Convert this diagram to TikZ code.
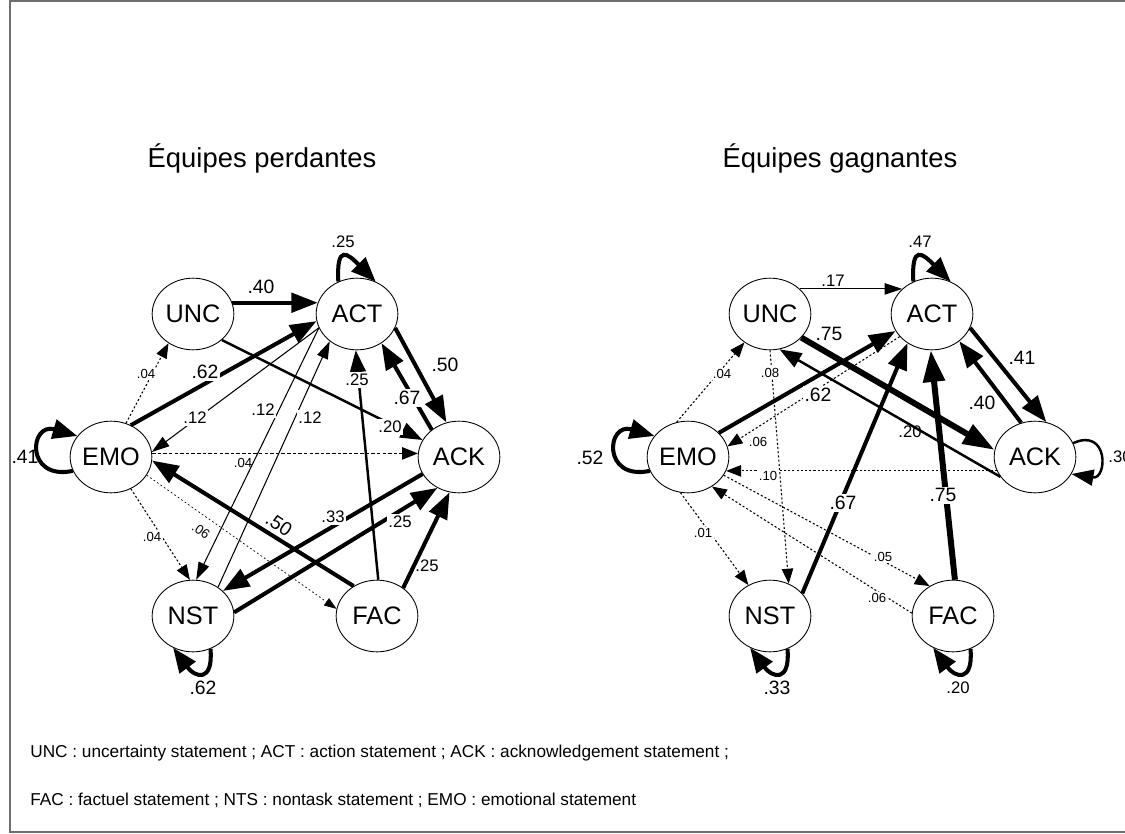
\documentclass[tikz,border=0pt]{standalone}
\usepackage{fontspec}
\setmainfont{Liberation Sans}
\usepackage{tikz}
\usetikzlibrary{arrows.meta,shapes.geometric}
\usepackage{xcolor}
\definecolor{framegray}{RGB}{110,110,110}
\tikzstyle{state} = [ellipse, draw, line width=0.5pt, minimum width=46.5pt, minimum height=40.8pt, inner sep=0pt, font=\fontsize{14.4}{16}\selectfont]
\tikzstyle{thinarrow} = [line width=0.6pt, -{Triangle[length=10pt,width=6.5pt]}]
\tikzstyle{medarrow} = [line width=1.4pt, -{Triangle[length=12.5pt,width=9pt]}]
\tikzstyle{thickarrow} = [line width=2.3pt, -{Triangle[length=15pt,width=11pt]}]
\tikzstyle{heavyarrow} = [line width=3.4pt, -{Triangle[length=18pt,width=12pt]}]
\tikzstyle{dotarrow} = [line width=0.6pt, dash pattern=on 1.2pt off 1.2pt, -{Triangle[length=8.5pt,width=6.5pt]}]
\tikzstyle{finedot} = [line width=0.4pt, dash pattern=on 1pt off 1.4pt, -{Triangle[length=7pt,width=5pt]}]
\tikzstyle{dasharrow} = [line width=0.8pt, dash pattern=on 2pt off 1.2pt, -{Triangle[length=9pt,width=7pt]}]
\tikzstyle{loopline} = [line width=2.3pt, -{Triangle[length=14pt,width=11pt]}]
\tikzstyle{wbig} = [font=\fontsize{11}{13}\selectfont, inner sep=1pt]
\tikzstyle{wmid} = [font=\fontsize{9.5}{11}\selectfont, inner sep=1pt]
\tikzstyle{wsmall} = [font=\fontsize{7.5}{9}\selectfont, inner sep=1pt]
\tikzstyle{gap} = [fill=white]
\tikzstyle{title} = [font=\fontsize{15.6}{18}\selectfont]
\tikzstyle{legend} = [font=\fontsize{9.8}{12}\selectfont, anchor=west, inner sep=0pt]

\begin{document}
\begin{tikzpicture}[x=0.02cm, y=-0.02cm]
\useasboundingbox (0,0) rectangle (1125,834);
\draw[framegray, line width=0.6pt] (10,1) rectangle (1200,832);

% Titles
\node[title] (ltitle) at (262,158) {Équipes perdantes};
\node[title] (rtitle) at (840,158) {Équipes gagnantes};

% Losing teams
\node[state] (lUNC) at (193,314) {UNC};
\node[state] (lACT) at (357,314) {ACT};
\node[state] (lEMO) at (111,457) {EMO};
\node[state] (lACK) at (459,457) {ACK};
\node[state] (lNST) at (193,616) {NST};
\node[state] (lFAC) at (377,616) {FAC};

\draw[thickarrow] (lUNC.16) -- (lACT.164);
\draw[thickarrow] (lEMO.58) -- (lACT.190);
\draw[thinarrow] (lACT.200) -- (lEMO.7);
\draw[thinarrow] (lACT.200) -- (lNST.85);
\draw[thinarrow] (lNST.49) -- (lACT.225);
\draw[dotarrow] (lEMO.66) -- (lUNC.230);
\draw[dasharrow] (lEMO.5) -- (lACK.175);
\draw[medarrow] (lUNC.-42) -- (lACK.155);
\draw[thickarrow] (lACT.-20) -- (lACK.110);
\draw[thickarrow] (lACK.135) -- (lACT.-50);
\draw[medarrow] (lFAC.88) -- (lACT.268);
\draw[thickarrow] (lFAC.128) -- (lEMO.-5);
\draw[thickarrow] (lACK.205) -- (lNST.40);
\draw[thickarrow] (lNST.5) -- (lACK.235);
\draw[thickarrow] (lFAC.47) -- (lACK.255);
\draw[dotarrow] (lEMO.-58) -- (lNST.95);
\draw[finedot] (lEMO.-27) -- (lFAC.170);
\draw[loopline] (lEMO.200) .. controls +(-48,10) and +(-48,-14) .. (lEMO.148);
\draw[loopline] (lACT.120) .. controls +(-2,-38) and +(-28,-28) .. (lACT.60);
\draw[loopline] (lNST.-62) .. controls +(3,34) and +(22,30) .. (lNST.238);

\node[wbig] (l40) at (261,287) {.40};
\node[wbig, gap] (l62) at (205,372) {.62};
\node[wmid, gap] (l12a) at (195,418) {.12};
\node[wmid, gap] (l12b) at (263,410) {.12};
\node[wmid, gap] (l12c) at (310,418) {.12};
\node[wsmall, gap] (l04a) at (146,374) {.04};
\node[wsmall] (l04b) at (243,463) {.04};
\node[wmid] (l25a) at (343,242) {.25};
\node[wmid, gap] (l25b) at (357,380) {.25};
\node[wbig] (l50a) at (445,365) {.50};
\node[wbig, gap] (l67) at (407,398) {.67};
\node[wmid, gap] (l20) at (390,427) {.20};
\node[wbig] (l41) at (25,457) {.41};
\node[wsmall, gap] (l04c) at (152,537) {.04};
\node[wsmall, rotate=-34.6] (l06) at (201,531) {.06};
\node[wbig, rotate=-33.6] (l50b) at (279,524) {.50};
\node[wmid, gap] (l33) at (333,517) {.33};
\node[wmid, gap] (l25c) at (400,522) {.25};
\node[wmid] (l25d) at (427,566) {.25};
\node[wbig] (l62b) at (203,688) {.62};

% Winning teams
\node[state] (rUNC) at (770,314) {UNC};
\node[state] (rACT) at (932,314) {ACT};
\node[state] (rEMO) at (688,457) {EMO};
\node[state] (rACK) at (1035,457) {ACK};
\node[state] (rNST) at (770,616) {NST};
\node[state] (rFAC) at (953,616) {FAC};

\draw[thinarrow] (rUNC.40) -- (rACT.140);
\draw[thickarrow] (rEMO.38) -- (rACT.205);
\draw[dotarrow] (rACT.215) -- (rEMO.15);
\draw[thickarrow] (rNST.35) -- (rACT.230);
\draw[heavyarrow] (rFAC.87) -- (rACT.268);
\draw[thickarrow] (rACT.-20) -- (rACK.72);
\draw[thickarrow] (rACK.112) -- (rACT.-45);
\draw[heavyarrow] (rUNC.-37) -- (rACK.170);
\draw[medarrow] (rACK.210) -- (rUNC.-75);
\draw[dotarrow] (rACK.200) -- (rEMO.-20);
\draw[dotarrow] (rEMO.108) -- (rUNC.228);
\draw[dotarrow] (rUNC.270) -- (rNST.60);
\draw[dotarrow] (rEMO.258) -- (rNST.125);
\draw[dotarrow] (rEMO.-27) -- (rFAC.128);
\draw[dotarrow] (rFAC.176) -- (rEMO.-51);
\draw[loopline] (rEMO.200) .. controls +(-48,10) and +(-48,-14) .. (rEMO.148);
\draw[loopline] (rACT.120) .. controls +(-2,-38) and +(-28,-28) .. (rACT.60);
\draw[loopline] (rNST.-62) .. controls +(3,34) and +(22,30) .. (rNST.238);
\draw[loopline] (rFAC.-62) .. controls +(3,34) and +(22,30) .. (rFAC.238);
\draw[medarrow] (rACK.20) .. controls +(36,-16) and +(36,6) .. (rACK.-25);

\node[wmid] (r17) at (833,281) {.17};
\node[wmid] (r47) at (920,242) {.47};
\node[wbig] (r75a) at (829,334) {.75};
\node[wbig, gap] (r62) at (818,395) {.62};
\node[wsmall, gap] (r04) at (722,374) {.04};
\node[wsmall, gap] (r08) at (770,373) {.08};
\node[wsmall] (r06a) at (758,442) {.06};
\node[wsmall, gap] (r10) at (768,476) {.10};
\node[wbig] (r52) at (590,458) {.52};
\node[wbig] (r41) at (1022,358) {.41};
\node[wbig] (r40) at (982,403) {.40};
\node[wmid] (r20a) at (910,432) {.20};
\node[wmid] (r30) at (1120,457) {.30};
\node[wbig, gap] (r67) at (843,503) {.67};
\node[wbig, gap] (r75b) at (943,495) {.75};
\node[wsmall, gap] (r01) at (703,533) {.01};
\node[wsmall, gap] (r05) at (883,557) {.05};
\node[wsmall, gap] (r06b) at (877,598) {.06};
\node[wbig] (r33) at (777,688) {.33};
\node[wmid] (r20b) at (958,688) {.20};

% Legend
\node[legend] (leg1) at (30,753) {UNC : uncertainty statement ; ACT : action statement ; ACK : acknowledgement statement ;};
\node[legend] (leg2) at (30,800) {FAC : factuel statement ; NTS : nontask statement ; EMO : emotional statement};
\end{tikzpicture}
\end{document}
